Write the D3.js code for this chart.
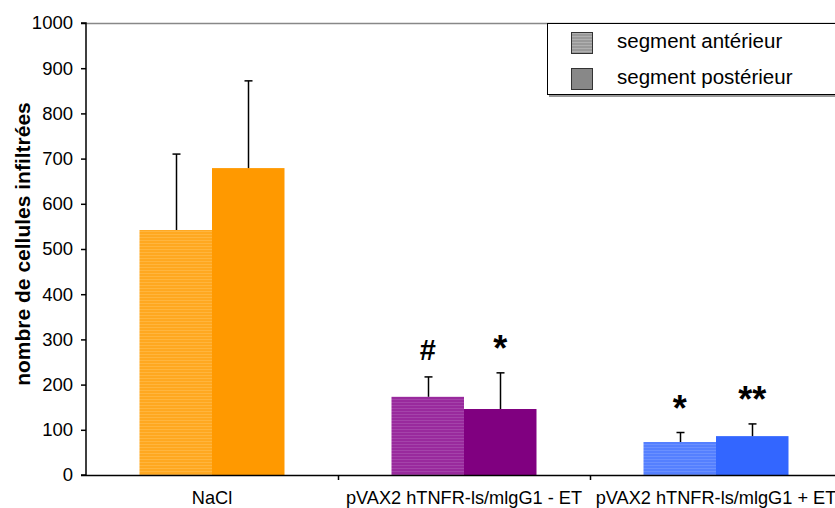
<!DOCTYPE html>
<html><head><meta charset="utf-8">
<script src="https://cdn.jsdelivr.net/npm/d3@7"></script>
<style>body{margin:0;background:#fff;} svg{display:block;font-family:Arial,"Liberation Sans",sans-serif;}</style>
</head><body><svg id="c" width="835" height="508"></svg>
<script>
const categories = ["NaCl", "pVAX2 hTNFR-ls/mlgG1 - ET", "pVAX2 hTNFR-ls/mlgG1 + ET"];
const seriesNames = ["segment antérieur", "segment postérieur"];
const anterior = [542, 173, 73];
const anteriorErr = [168, 44, 21];
const posterior = [679, 146, 86];
const posteriorErr = [193, 80, 27];
const annotAnterior = ["", "#", "*"];
const annotPosterior = ["", "*", "**"];
const yTicks = [0, 100, 200, 300, 400, 500, 600, 700, 800, 900, 1000];
const solidColors = ["#FF9900", "#800080", "#3366FF"];
const stripeBase = ["#FFA820", "#992A9D", "#5580FF"];
const stripeLine = ["#FFB53E", "#A443AA", "#6A90FF"];

const svg = d3.select("#c");
const x0 = 86, yTop = 23, yBot = 475;
const y = d3.scaleLinear().domain([0, 1000]).range([yBot, yTop]);
const x = d3.scaleBand().domain(categories).range([x0, x0 + 252 * 3]).paddingInner(0).paddingOuter(0);
const xs = d3.scaleBand().domain([0, 1]).range([0, 145]);

const defs = svg.append("defs");
categories.forEach((c, i) => {
  const p = defs.append("pattern").attr("id", "st" + i).attr("patternUnits", "userSpaceOnUse")
    .attr("width", 6).attr("height", 3);
  p.append("rect").attr("width", 6).attr("height", 3).attr("fill", stripeBase[i]);
  p.append("rect").attr("width", 6).attr("height", 1).attr("fill", stripeLine[i]);
});
const lp = defs.append("pattern").attr("id", "lg").attr("patternUnits", "userSpaceOnUse").attr("width", 6).attr("height", 3);
lp.append("rect").attr("width", 6).attr("height", 3).attr("fill", "#999");
lp.append("rect").attr("width", 6).attr("height", 1).attr("fill", "#b0b0b0");

// top border of plot area
svg.append("line").attr("x1", x0).attr("x2", 835).attr("y1", yTop + 0.5).attr("y2", yTop + 0.5)
  .attr("stroke", "#888").attr("stroke-width", 1.5);

// bars
const data = categories.map((c, i) => ({c, i, vals: [anterior[i], posterior[i]], errs: [anteriorErr[i], posteriorErr[i]], ann: [annotAnterior[i], annotPosterior[i]]}));
data.forEach(d => {
  const gx = x(d.c) + (x.bandwidth() - 145) / 2;
  [0, 1].forEach(k => {
    const bx = gx + xs(k);
    svg.append("rect").attr("x", bx).attr("y", y(d.vals[k])).attr("width", xs.bandwidth())
      .attr("height", yBot - y(d.vals[k])).attr("fill", k === 0 ? `url(#st${d.i})` : solidColors[d.i]);
    const cx = Math.round(bx + xs.bandwidth() / 2) + 0.5;
    const et = y(d.vals[k] + d.errs[k]);
    svg.append("line").attr("x1", cx).attr("x2", cx).attr("y1", y(d.vals[k])).attr("y2", et)
      .attr("stroke", "#000").attr("stroke-width", 1.5);
    svg.append("line").attr("x1", cx - 4).attr("x2", cx + 4).attr("y1", et).attr("y2", et)
      .attr("stroke", "#000").attr("stroke-width", 1.5);
    if (d.ann[k]) {
      const star = d.ann[k].startsWith("*");
      svg.append("text").attr("x", bx + xs.bandwidth() / 2).attr("y", et - (star ? 12 : 17))
        .attr("text-anchor", "middle").attr("font-size", star ? 36 : 29).attr("font-weight", "bold").text(d.ann[k]);
    }
  });
});

// y axis
const ya = svg.append("g").attr("transform", `translate(${x0},0)`)
  .call(d3.axisLeft(y).tickValues(yTicks).tickSize(5).tickPadding(8).tickFormat(d3.format("d")));
ya.select(".domain").attr("stroke", "#000").attr("stroke-width", 1.5).attr("d", `M-5,${yTop}H0V${yBot}H-5`);
ya.selectAll(".tick line").attr("stroke", "#000").attr("stroke-width", 1.5);
ya.selectAll(".tick text").attr("font-size", 18.5).attr("fill", "#000").attr("font-family", "Arial,'Liberation Sans',sans-serif");

// x axis
const xa = svg.append("g").attr("transform", `translate(0,${yBot})`)
  .call(d3.axisBottom(x).tickSize(0).tickPadding(0));
xa.select(".domain").remove();
svg.append("line").attr("x1", x0).attr("x2", 835).attr("y1", yBot + 0.5).attr("y2", yBot + 0.5).attr("stroke", "#000").attr("stroke-width", 1.5);
[1, 2].forEach(i => {
  const tx = Math.round(x(categories[i])) + 0.5;
  svg.append("line").attr("x1", tx).attr("x2", tx).attr("y1", yBot).attr("y2", yBot + 5).attr("stroke", "#000").attr("stroke-width", 1.5);
});
xa.selectAll(".tick text").attr("font-size", 18.2).attr("fill", "#000").attr("dy", null).attr("y", 29)
  .attr("font-family", "Arial,'Liberation Sans',sans-serif");

// y title
svg.append("text").attr("transform", "translate(30,244) rotate(-90)").attr("text-anchor", "middle")
  .attr("font-size", 21).attr("font-weight", "bold").text("nombre de cellules infiltrées");

// legend
const lg = svg.append("g");
lg.append("rect").attr("x", 549).attr("y", 25).attr("width", 300).attr("height", 72).attr("fill", "#999");
lg.append("rect").attr("x", 547.5).attr("y", 23.5).attr("width", 300).attr("height", 71).attr("fill", "#fff").attr("stroke", "#000").attr("stroke-width", 1);
seriesNames.forEach((s, i) => {
  const ly = 32 + i * 36;
  lg.append("rect").attr("x", 571.5).attr("y", ly + 0.5).attr("width", 21).attr("height", 21)
    .attr("fill", i === 0 ? "url(#lg)" : "#888").attr("stroke", "#333").attr("stroke-width", 1);
  lg.append("text").attr("x", 617).attr("y", ly + 16).attr("font-size", 20.5).text(s);
});
</script></body></html>
